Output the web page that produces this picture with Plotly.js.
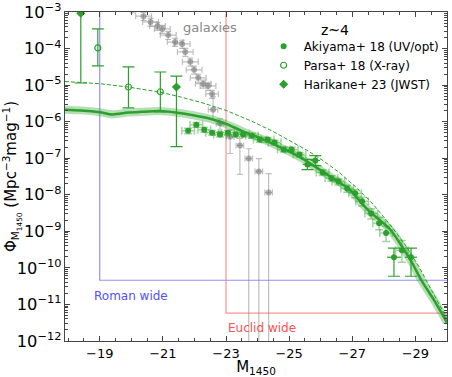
<!DOCTYPE html>
<html>
<head>
<meta charset="utf-8">
<script src="https://cdn.plot.ly/plotly-3.0.1.min.js"></script>
<style>html,body{margin:0;padding:0;background:#fff;}#chart{width:452px;height:377px;}</style>
</head>
<body>
<div id="chart"></div>
<script>
// ---------- data (log10 values of Phi) ----------
const modelM = [-17.9, -18.4, -19.0, -19.4, -19.9, -20.3, -20.9, -21.4, -22.0, -22.5, -23.0, -23.5, -24.1, -24.4, -25.3, -26.3, -26.9, -27.5, -28.2, -28.6, -28.9, -29.2, -29.6, -30.0];
const modelLog = [-5.67, -5.69, -5.74, -5.80, -5.75, -5.73, -5.71, -5.75, -5.83, -5.92, -6.06, -6.25, -6.46, -6.57, -6.95, -7.50, -7.85, -8.42, -8.95, -9.45, -9.87, -10.36, -10.90, -11.50];

const dashM = [-17.9, -19.0, -19.9, -20.9, -21.5, -22.2, -23.0, -23.8, -24.5, -25.1, -25.6, -26.1, -26.6, -27.1, -27.6, -28.2, -28.7, -29.1, -29.5, -30.0];
const dashLog = [-4.90, -4.96, -5.05, -5.19, -5.31, -5.47, -5.69, -5.98, -6.27, -6.55, -6.80, -7.08, -7.40, -7.78, -8.20, -8.82, -9.40, -9.95, -10.58, -11.40];

const galM = [-19.85, -20.05, -20.39, -20.61, -20.83, -20.98, -21.17, -21.39, -21.61, -21.71, -21.87, -21.99, -22.12, -22.28, -22.43, -22.56, -22.59, -22.81, -23.13, -23.44, -23.72, -24.04, -24.35];
const galLog = [-2.75, -2.90, -3.11, -3.27, -3.38, -3.46, -3.63, -3.82, -3.87, -4.09, -4.36, -4.58, -4.80, -4.96, -5.02, -5.24, -5.67, -6.05, -6.41, -6.65, -7.01, -7.36, -7.94];
const galUpLog = [-2.65, -2.80, -3.01, -3.17, -3.28, -3.36, -3.53, -3.72, -3.77, -3.99, -4.26, -4.48, -4.70, -4.86, -4.92, -5.14, -5.32, -5.92, -6.22, -6.46, -6.74, -7.01, -7.42];
const galLoLog = [-2.87, -3.02, -3.23, -3.39, -3.50, -3.58, -3.75, -3.94, -3.99, -4.21, -4.48, -4.70, -4.92, -5.08, -5.14, -5.36, -5.94, -6.27, -6.87, -7.44, -13.0, -13.0, -13.0];
const galMErr = [0.25, 0.25, 0.25, 0.25, 0.25, 0.25, 0.25, 0.25, 0.25, 0.25, 0.25, 0.25, 0.25, 0.25, 0.25, 0.2, 0.15, 0.12, 0.12, 0.12, 0.12, 0.12, 0.12];

const akiM = [-21.80, -22.06, -22.31, -22.56, -22.81, -23.06, -23.31, -23.54, -23.82, -24.07, -24.32, -24.54, -24.83, -25.08, -25.33, -26.06, -26.34, -26.56, -26.84, -27.09, -27.31, -27.60, -27.85, -28.07, -28.57];
const akiLog = [-6.25, -6.08, -6.22, -6.30, -6.35, -6.30, -6.35, -6.35, -6.38, -6.49, -6.49, -6.57, -6.76, -6.76, -6.90, -7.39, -7.55, -7.64, -7.83, -7.96, -8.18, -8.51, -8.78, -9.05, -9.52];
const akiUpLog = [-6.18, -6.02, -6.16, -6.24, -6.29, -6.24, -6.29, -6.29, -6.32, -6.43, -6.43, -6.51, -6.70, -6.70, -6.84, -7.32, -7.48, -7.56, -7.74, -7.86, -8.07, -8.38, -8.62, -8.86, -9.25];
const akiLoLog = [-6.33, -6.15, -6.29, -6.37, -6.42, -6.37, -6.42, -6.42, -6.45, -6.56, -6.56, -6.64, -6.83, -6.83, -6.97, -7.47, -7.63, -7.73, -7.93, -8.08, -8.31, -8.66, -8.96, -9.28, -9.85];
const akiMErr = [0.2, 0.2, 0.2, 0.2, 0.2, 0.2, 0.2, 0.2, 0.2, 0.2, 0.2, 0.2, 0.2, 0.2, 0.2, 0.2, 0.2, 0.2, 0.2, 0.2, 0.2, 0.2, 0.2, 0.2, 0.2];

const akiBM = [-25.58, -25.83, -28.32, -28.86];
const akiBLog = [-7.17, -7.06, -9.71, -9.71];
const akiBUpLog = [-7.03, -6.93, -9.46, -9.46];
const akiBLoLog = [-7.31, -7.20, -10.23, -10.23];
const akiBMErr = [0.15, 0.15, 0.22, 0.19];

const parM = [-18.94, -19.91, -20.92];
const parLog = [-3.98, -5.05, -5.18];
const parUpLog = [-3.46, -4.50, -4.64];
const parLoLog = [-4.47, -5.62, -5.73];

const harM = [-18.40, -21.43];
const harLog = [-3.03, -5.05];
const harUpLog = [-2.80, -4.75];
const harLoLog = [-4.94, -6.68];

const romanM = [-19, -19, -31];
const romanLog = [-2, -10.34, -10.34];
const euclidM = [-23, -23, -31];
const euclidLog = [-2, -11.24, -11.24];

// ---------- helpers ----------
const p = a => a.map(v => Math.pow(10, v));
const errs = (lg, up, lo) => ({
  plus: lg.map((v, i) => Math.pow(10, up[i]) - Math.pow(10, v)),
  minus: lg.map((v, i) => Math.pow(10, v) - Math.pow(10, lo[i]))
});
const G = '#2ca02c';
const GL = 'rgba(44,160,44,0.45)';

const ge = errs(galLog, galUpLog, galLoLog);
const ae = errs(akiLog, akiUpLog, akiLoLog);
const be = errs(akiBLog, akiBUpLog, akiBLoLog);
const pe = errs(parLog, parUpLog, parLoLog);
const he = errs(harLog, harUpLog, harLoLog);

const traces = [
  {x: romanM, y: p(romanLog), mode: 'lines', line: {color: 'rgba(100,100,255,0.7)', width: 1.2}, showlegend: false, hoverinfo: 'skip'},
  {x: euclidM, y: p(euclidLog), mode: 'lines', line: {color: 'rgba(255,100,100,0.7)', width: 1.2}, showlegend: false, hoverinfo: 'skip'},
  {x: galM, y: p(galLog), mode: 'markers', showlegend: false,
   marker: {symbol: 'circle', size: 6, color: 'rgba(128,128,128,0.65)'},
   error_y: {type: 'data', symmetric: false, array: ge.plus, arrayminus: ge.minus, color: 'rgba(128,128,128,0.5)', thickness: 1.2, width: 3},
   error_x: {type: 'data', array: galMErr, color: 'rgba(128,128,128,0.5)', thickness: 1.2, width: 3}},
  {x: modelM, y: p(modelLog), mode: 'lines', line: {color: 'rgba(44,160,44,0.35)', width: 8, shape: 'spline', smoothing: 0.8}, showlegend: false, hoverinfo: 'skip'},
  {x: modelM, y: p(modelLog), mode: 'lines', line: {color: G, width: 2.5, shape: 'spline', smoothing: 0.8}, showlegend: false},
  {x: dashM, y: p(dashLog), mode: 'lines', line: {color: G, width: 1, dash: '4px,2px'}, showlegend: false},
  {x: akiM, y: p(akiLog), mode: 'markers', name: 'Akiyama+ 18 (UV/opt)', legendgroup: 'aki',
   marker: {symbol: 'circle', size: 6, color: G},
   error_y: {type: 'data', symmetric: false, array: ae.plus, arrayminus: ae.minus, color: GL, thickness: 1.5, width: 4},
   error_x: {type: 'data', array: akiMErr, color: GL, thickness: 1.5, width: 4}},
  {x: akiBM, y: p(akiBLog), mode: 'markers', name: 'Akiyama+ 18 (UV/opt)', legendgroup: 'aki', showlegend: false,
   marker: {symbol: 'circle', size: 6, color: G},
   error_y: {type: 'data', symmetric: false, array: be.plus, arrayminus: be.minus, color: G, thickness: 1.2, width: 6},
   error_x: {type: 'data', array: akiBMErr, color: G, thickness: 1.2, width: 0}},
  {x: parM, y: p(parLog), mode: 'markers', name: 'Parsa+ 18 (X-ray)',
   marker: {symbol: 'circle-open', size: 6, color: G, line: {width: 1.2}},
   error_y: {type: 'data', symmetric: false, array: pe.plus, arrayminus: pe.minus, color: G, thickness: 1.2, width: 6}},
  {x: harM, y: p(harLog), mode: 'markers', name: 'Harikane+ 23 (JWST)',
   marker: {symbol: 'diamond', size: 7, color: G},
   error_y: {type: 'data', symmetric: false, array: he.plus, arrayminus: he.minus, color: G, thickness: 1.2, width: 6}}
];

const font = {family: 'DejaVu Sans, sans-serif', size: 13, color: '#000'};

const layout = {
  width: 452, height: 377,
  margin: {l: 65, r: 5, t: 12, b: 36},
  paper_bgcolor: '#fff', plot_bgcolor: '#fff',
  font: font,
  showlegend: true,
  legend: {x: 0.52, y: 0.94, xanchor: 'left', yanchor: 'top', bgcolor: 'rgba(0,0,0,0)',
           font: {family: 'DejaVu Sans, sans-serif', size: 12}, itemwidth: 30, tracegroupgap: 0},
  xaxis: {
    range: [-17.9, -30], tickmode: 'linear', tick0: -19, dtick: 2,
    ticks: 'inside', ticklen: 5, tickcolor: '#444', showline: true, linecolor: '#444', linewidth: 1,
    mirror: 'ticks', showgrid: false, zeroline: false,
    minor: {tick0: -19, dtick: 0.5, ticks: 'inside', ticklen: 3, tickcolor: '#444', showgrid: false},
    tickfont: {family: 'DejaVu Sans, sans-serif', size: 13},
    title: {text: 'M<sub>1450</sub>', font: {family: 'DejaVu Sans, sans-serif', size: 15}, standoff: 2}
  },
  yaxis: {
    type: 'log', range: [-12.003, -2.997], tickmode: 'linear', tick0: 0, dtick: 1, exponentformat: 'power',
    ticklabeloverflow: 'allow',
    ticks: 'inside', ticklen: 5, tickcolor: '#444', showline: true, linecolor: '#444', linewidth: 1,
    mirror: 'ticks', showgrid: false, zeroline: false,
    minor: {ticks: 'inside', ticklen: 3, tickcolor: '#444', showgrid: false},
    tickfont: {family: 'DejaVu Sans, sans-serif', size: 13},
    title: {text: 'Φ<sub>M<sub>1450</sub></sub> (Mpc<sup>−3</sup>mag<sup>−1</sup>)', font: {family: 'DejaVu Sans, sans-serif', size: 15}, standoff: 4}
  },
  annotations: [
    {x: -22.5, y: -3.41, xref: 'x', yref: 'y', text: 'galaxies', showarrow: false, font: {family: 'DejaVu Sans, sans-serif', size: 13, color: '#888'}},
    {x: -26.46, y: -3.49, xref: 'x', yref: 'y', text: 'z~4', showarrow: false, font: {family: 'DejaVu Sans, sans-serif', size: 14, color: '#000'}},
    {x: -19.98, y: -10.77, xref: 'x', yref: 'y', text: 'Roman wide', showarrow: false, font: {family: 'DejaVu Sans, sans-serif', size: 12, color: '#5050ff'}},
    {x: -24.13, y: -11.64, xref: 'x', yref: 'y', text: 'Euclid wide', showarrow: false, font: {family: 'DejaVu Sans, sans-serif', size: 12, color: '#ff5050'}}
  ]
};

Plotly.newPlot('chart', traces, layout, {displayModeBar: false, staticPlot: true});
</script>
</body>
</html>
